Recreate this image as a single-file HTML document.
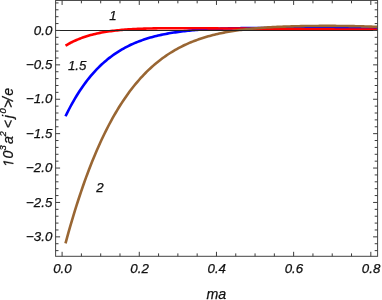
<!DOCTYPE html><html><head><meta charset="utf-8"><style>html,body{margin:0;padding:0;background:#fff;}body{width:382px;height:300px;overflow:hidden;position:relative}</style></head><body><svg width="382" height="300" viewBox="0 0 382 300" style="position:absolute;left:0;top:0;will-change:transform;transform:translateZ(0)">
<rect width="382" height="300" fill="#fff"/>
<path d="M65.50,116.28 L67.07,113.08 L68.64,109.98 L70.21,106.99 L71.77,104.10 L73.34,101.31 L74.91,98.61 L76.48,96.00 L78.05,93.48 L79.62,91.05 L81.18,88.70 L82.75,86.42 L84.32,84.23 L85.89,82.11 L87.46,80.06 L89.03,78.09 L90.59,76.18 L92.16,74.33 L93.73,72.56 L95.30,70.84 L96.87,69.18 L98.44,67.58 L100.00,66.04 L101.57,64.55 L103.14,63.12 L104.71,61.73 L106.28,60.40 L107.85,59.11 L109.41,57.87 L110.98,56.67 L112.55,55.51 L114.12,54.40 L115.69,53.33 L117.26,52.30 L118.82,51.30 L120.39,50.34 L121.96,49.42 L123.53,48.53 L125.10,47.67 L126.67,46.84 L128.23,46.05 L129.80,45.28 L131.37,44.55 L132.94,43.84 L134.51,43.15 L136.08,42.50 L137.64,41.87 L139.21,41.26 L140.78,40.68 L142.35,40.12 L143.92,39.58 L145.49,39.06 L147.05,38.56 L148.62,38.08 L150.19,37.62 L151.76,37.18 L153.33,36.75 L154.90,36.34 L156.46,35.95 L158.03,35.58 L159.60,35.22 L161.17,34.87 L162.74,34.54 L164.31,34.22 L165.87,33.92 L167.44,33.62 L169.01,33.34 L170.58,33.08 L172.15,32.82 L173.72,32.57 L175.28,32.34 L176.85,32.11 L178.42,31.90 L179.99,31.69 L181.56,31.49 L183.13,31.30 L184.69,31.12 L186.26,30.95 L187.83,30.78 L189.40,30.63 L190.97,30.48 L192.54,30.33 L194.10,30.20 L195.67,30.07 L197.24,29.94 L198.81,29.82 L200.38,29.71 L201.95,29.60 L203.51,29.50 L205.08,29.40 L206.65,29.31 L208.22,29.22 L209.79,29.14 L211.36,29.06 L212.92,28.98 L214.49,28.91 L216.06,28.85 L217.63,28.78 L219.20,28.72 L220.77,28.66 L222.33,28.61 L223.90,28.56 L225.47,28.51 L227.04,28.47 L228.61,28.42 L230.18,28.38 L231.74,28.35 L233.31,28.31 L234.88,28.28 L236.45,28.25 L238.02,28.22 L239.59,28.19 L241.15,28.17 L242.72,28.14 L244.29,28.12 L245.86,28.10 L247.43,28.08 L249.00,28.07 L250.56,28.05 L252.13,28.04 L253.70,28.03 L255.27,28.01 L256.84,28.00 L258.41,28.00 L259.97,27.99 L261.54,27.98 L263.11,27.97 L264.68,27.97 L266.25,27.97 L267.82,27.96 L269.38,27.96 L270.95,27.96 L272.52,27.96 L274.09,27.96 L275.66,27.96 L277.23,27.96 L278.79,27.96 L280.36,27.96 L281.93,27.96 L283.50,27.97 L285.07,27.97 L286.64,27.98 L288.20,27.98 L289.77,27.99 L291.34,27.99 L292.91,28.00 L294.48,28.00 L296.05,28.01 L297.61,28.02 L299.18,28.02 L300.75,28.03 L302.32,28.04 L303.89,28.05 L305.46,28.05 L307.02,28.06 L308.59,28.07 L310.16,28.08 L311.73,28.09 L313.30,28.10 L314.87,28.11 L316.43,28.12 L318.00,28.13 L319.57,28.14 L321.14,28.15 L322.71,28.16 L324.28,28.17 L325.84,28.18 L327.41,28.19 L328.98,28.20 L330.55,28.21 L332.12,28.22 L333.69,28.23 L335.25,28.24 L336.82,28.25 L338.39,28.26 L339.96,28.27 L341.53,28.28 L343.10,28.29 L344.66,28.30 L346.23,28.32 L347.80,28.33 L349.37,28.34 L350.94,28.35 L352.51,28.36 L354.07,28.37 L355.64,28.38 L357.21,28.39 L358.78,28.41 L360.35,28.42 L361.92,28.43 L363.48,28.44 L365.05,28.45 L366.62,28.46 L368.19,28.48 L369.76,28.49 L371.33,28.50 L372.89,28.51 L374.46,28.52 L376.03,28.53 L377.60,28.54" fill="none" stroke="#0000ff" stroke-width="2.6"/>
<path d="M65.50,45.72 L67.07,44.78 L68.64,43.88 L70.21,43.02 L71.77,42.21 L73.34,41.44 L74.91,40.70 L76.48,40.00 L78.05,39.34 L79.62,38.70 L81.18,38.10 L82.75,37.53 L84.32,36.99 L85.89,36.48 L87.46,35.99 L89.03,35.53 L90.59,35.09 L92.16,34.67 L93.73,34.27 L95.30,33.90 L96.87,33.55 L98.44,33.21 L100.00,32.89 L101.57,32.59 L103.14,32.31 L104.71,32.04 L106.28,31.78 L107.85,31.54 L109.41,31.31 L110.98,31.10 L112.55,30.90 L114.12,30.70 L115.69,30.52 L117.26,30.35 L118.82,30.19 L120.39,30.04 L121.96,29.90 L123.53,29.77 L125.10,29.65 L126.67,29.53 L128.23,29.42 L129.80,29.32 L131.37,29.22 L132.94,29.13 L134.51,29.05 L136.08,28.97 L137.64,28.89 L139.21,28.83 L140.78,28.76 L142.35,28.71 L143.92,28.65 L145.49,28.60 L147.05,28.55 L148.62,28.51 L150.19,28.47 L151.76,28.44 L153.33,28.40 L154.90,28.38 L156.46,28.35 L158.03,28.32 L159.60,28.30 L161.17,28.28 L162.74,28.27 L164.31,28.25 L165.87,28.24 L167.44,28.23 L169.01,28.22 L170.58,28.21 L172.15,28.20 L173.72,28.20 L175.28,28.20 L176.85,28.19 L178.42,28.19 L179.99,28.19 L181.56,28.19 L183.13,28.20 L184.69,28.20 L186.26,28.20 L187.83,28.21 L189.40,28.22 L190.97,28.22 L192.54,28.23 L194.10,28.24 L195.67,28.25 L197.24,28.26 L198.81,28.27 L200.38,28.28 L201.95,28.29 L203.51,28.30 L205.08,28.31 L206.65,28.32 L208.22,28.33 L209.79,28.35 L211.36,28.36 L212.92,28.37 L214.49,28.38 L216.06,28.40 L217.63,28.41 L219.20,28.43 L220.77,28.44 L222.33,28.45 L223.90,28.47 L225.47,28.48 L227.04,28.50 L228.61,28.51 L230.18,28.53 L231.74,28.54 L233.31,28.56 L234.88,28.57 L236.45,28.59 L238.02,28.60 L239.59,28.61 L241.15,28.63 L242.72,28.64 L244.29,28.66 L245.86,28.67 L247.43,28.69 L249.00,28.70 L250.56,28.72 L252.13,28.73 L253.70,28.75 L255.27,28.76 L256.84,28.78 L258.41,28.79 L259.97,28.81 L261.54,28.82 L263.11,28.84 L264.68,28.85 L266.25,28.87 L267.82,28.88 L269.38,28.89 L270.95,28.91 L272.52,28.92 L274.09,28.94 L275.66,28.95 L277.23,28.97 L278.79,28.98 L280.36,28.99 L281.93,29.01 L283.50,29.02 L285.07,29.03 L286.64,29.05 L288.20,29.06 L289.77,29.08 L291.34,29.09 L292.91,29.10 L294.48,29.11 L296.05,29.13 L297.61,29.14 L299.18,29.15 L300.75,29.17 L302.32,29.18 L303.89,29.19 L305.46,29.21 L307.02,29.22 L308.59,29.23 L310.16,29.24 L311.73,29.25 L313.30,29.27 L314.87,29.28 L316.43,29.29 L318.00,29.30 L319.57,29.32 L321.14,29.33 L322.71,29.34 L324.28,29.35 L325.84,29.36 L327.41,29.37 L328.98,29.39 L330.55,29.40 L332.12,29.41 L333.69,29.42 L335.25,29.43 L336.82,29.44 L338.39,29.45 L339.96,29.46 L341.53,29.47 L343.10,29.48 L344.66,29.49 L346.23,29.51 L347.80,29.52 L349.37,29.53 L350.94,29.54 L352.51,29.55 L354.07,29.56 L355.64,29.57 L357.21,29.58 L358.78,29.59 L360.35,29.60 L361.92,29.61 L363.48,29.62 L365.05,29.63 L366.62,29.64 L368.19,29.64 L369.76,29.65 L371.33,29.66 L372.89,29.67 L374.46,29.68 L376.03,29.69 L377.60,29.70" fill="none" stroke="#ff0000" stroke-width="2.6" stroke-linecap="butt"/>
<path d="M65.50,243.31 L67.07,237.55 L68.64,231.92 L70.21,226.42 L71.77,221.05 L73.34,215.79 L74.91,210.66 L76.48,205.65 L78.05,200.75 L79.62,195.97 L81.18,191.29 L82.75,186.73 L84.32,182.28 L85.89,177.93 L87.46,173.68 L89.03,169.53 L90.59,165.49 L92.16,161.54 L93.73,157.69 L95.30,153.93 L96.87,150.26 L98.44,146.68 L100.00,143.19 L101.57,139.78 L103.14,136.46 L104.71,133.23 L106.28,130.07 L107.85,126.99 L109.41,123.99 L110.98,121.07 L112.55,118.22 L114.12,115.44 L115.69,112.74 L117.26,110.10 L118.82,107.53 L120.39,105.03 L121.96,102.60 L123.53,100.23 L125.10,97.92 L126.67,95.67 L128.23,93.48 L129.80,91.35 L131.37,89.28 L132.94,87.27 L134.51,85.31 L136.08,83.40 L137.64,81.54 L139.21,79.74 L140.78,77.99 L142.35,76.28 L143.92,74.62 L145.49,73.01 L147.05,71.45 L148.62,69.93 L150.19,68.45 L151.76,67.01 L153.33,65.62 L154.90,64.27 L156.46,62.95 L158.03,61.68 L159.60,60.44 L161.17,59.24 L162.74,58.07 L164.31,56.94 L165.87,55.84 L167.44,54.78 L169.01,53.75 L170.58,52.75 L172.15,51.78 L173.72,50.84 L175.28,49.93 L176.85,49.05 L178.42,48.19 L179.99,47.37 L181.56,46.56 L183.13,45.79 L184.69,45.04 L186.26,44.31 L187.83,43.61 L189.40,42.93 L190.97,42.27 L192.54,41.63 L194.10,41.02 L195.67,40.42 L197.24,39.85 L198.81,39.29 L200.38,38.76 L201.95,38.24 L203.51,37.74 L205.08,37.25 L206.65,36.78 L208.22,36.33 L209.79,35.90 L211.36,35.48 L212.92,35.07 L214.49,34.68 L216.06,34.31 L217.63,33.94 L219.20,33.59 L220.77,33.26 L222.33,32.93 L223.90,32.62 L225.47,32.32 L227.04,32.03 L228.61,31.75 L230.18,31.48 L231.74,31.22 L233.31,30.97 L234.88,30.73 L236.45,30.50 L238.02,30.28 L239.59,30.07 L241.15,29.87 L242.72,29.67 L244.29,29.48 L245.86,29.30 L247.43,29.13 L249.00,28.96 L250.56,28.80 L252.13,28.65 L253.70,28.50 L255.27,28.36 L256.84,28.22 L258.41,28.09 L259.97,27.97 L261.54,27.85 L263.11,27.74 L264.68,27.63 L266.25,27.52 L267.82,27.42 L269.38,27.33 L270.95,27.24 L272.52,27.15 L274.09,27.07 L275.66,26.99 L277.23,26.91 L278.79,26.84 L280.36,26.77 L281.93,26.71 L283.50,26.65 L285.07,26.59 L286.64,26.53 L288.20,26.48 L289.77,26.43 L291.34,26.38 L292.91,26.34 L294.48,26.29 L296.05,26.25 L297.61,26.22 L299.18,26.18 L300.75,26.15 L302.32,26.12 L303.89,26.09 L305.46,26.06 L307.02,26.04 L308.59,26.02 L310.16,26.00 L311.73,25.98 L313.30,25.96 L314.87,25.95 L316.43,25.94 L318.00,25.93 L319.57,25.92 L321.14,25.91 L322.71,25.90 L324.28,25.90 L325.84,25.90 L327.41,25.90 L328.98,25.90 L330.55,25.90 L332.12,25.91 L333.69,25.91 L335.25,25.92 L336.82,25.93 L338.39,25.94 L339.96,25.96 L341.53,25.97 L343.10,25.99 L344.66,26.01 L346.23,26.03 L347.80,26.05 L349.37,26.08 L350.94,26.10 L352.51,26.13 L354.07,26.16 L355.64,26.20 L357.21,26.23 L358.78,26.27 L360.35,26.31 L361.92,26.35 L363.48,26.39 L365.05,26.44 L366.62,26.49 L368.19,26.54 L369.76,26.59 L371.33,26.64 L372.89,26.70 L374.46,26.76 L376.03,26.82 L377.60,26.89" fill="none" stroke="#996633" stroke-width="2.6"/>
<line x1="55.6" y1="30.5" x2="377.6" y2="30.5" stroke="#222" stroke-width="1"/>
<rect x="55.6" y="0.45" width="322.0" height="255.85000000000002" fill="none" stroke="#444" stroke-width="1"/>
<path d="M62.10,256.3v-4.5M62.10,0.45v4.5M81.40,256.3v-2.9M81.40,0.45v2.9M100.69,256.3v-2.9M100.69,0.45v2.9M119.99,256.3v-2.9M119.99,0.45v2.9M139.28,256.3v-4.5M139.28,0.45v4.5M158.57,256.3v-2.9M158.57,0.45v2.9M177.87,256.3v-2.9M177.87,0.45v2.9M197.16,256.3v-2.9M197.16,0.45v2.9M216.46,256.3v-4.5M216.46,0.45v4.5M235.75,256.3v-2.9M235.75,0.45v2.9M255.05,256.3v-2.9M255.05,0.45v2.9M274.35,256.3v-2.9M274.35,0.45v2.9M293.64,256.3v-4.5M293.64,0.45v4.5M312.94,256.3v-2.9M312.94,0.45v2.9M332.23,256.3v-2.9M332.23,0.45v2.9M351.52,256.3v-2.9M351.52,0.45v2.9M370.82,256.3v-4.5M370.82,0.45v4.5M55.6,250.61h2.9M377.6,250.61h-2.9M55.6,243.73h2.9M377.6,243.73h-2.9M55.6,236.85h4.5M377.6,236.85h-4.5M55.6,229.97h2.9M377.6,229.97h-2.9M55.6,223.09h2.9M377.6,223.09h-2.9M55.6,216.21h2.9M377.6,216.21h-2.9M55.6,209.33h2.9M377.6,209.33h-2.9M55.6,202.45h4.5M377.6,202.45h-4.5M55.6,195.57h2.9M377.6,195.57h-2.9M55.6,188.69h2.9M377.6,188.69h-2.9M55.6,181.81h2.9M377.6,181.81h-2.9M55.6,174.93h2.9M377.6,174.93h-2.9M55.6,168.05h4.5M377.6,168.05h-4.5M55.6,161.17h2.9M377.6,161.17h-2.9M55.6,154.29h2.9M377.6,154.29h-2.9M55.6,147.41h2.9M377.6,147.41h-2.9M55.6,140.53h2.9M377.6,140.53h-2.9M55.6,133.65h4.5M377.6,133.65h-4.5M55.6,126.77h2.9M377.6,126.77h-2.9M55.6,119.89h2.9M377.6,119.89h-2.9M55.6,113.01h2.9M377.6,113.01h-2.9M55.6,106.13h2.9M377.6,106.13h-2.9M55.6,99.25h4.5M377.6,99.25h-4.5M55.6,92.37h2.9M377.6,92.37h-2.9M55.6,85.49h2.9M377.6,85.49h-2.9M55.6,78.61h2.9M377.6,78.61h-2.9M55.6,71.73h2.9M377.6,71.73h-2.9M55.6,64.85h4.5M377.6,64.85h-4.5M55.6,57.97h2.9M377.6,57.97h-2.9M55.6,51.09h2.9M377.6,51.09h-2.9M55.6,44.21h2.9M377.6,44.21h-2.9M55.6,37.33h2.9M377.6,37.33h-2.9M55.6,30.45h4.5M377.6,30.45h-4.5M55.6,23.57h2.9M377.6,23.57h-2.9M55.6,16.69h2.9M377.6,16.69h-2.9M55.6,9.81h2.9M377.6,9.81h-2.9M55.6,2.93h2.9M377.6,2.93h-2.9" stroke="#3c3c3c" stroke-width="1" fill="none"/>
<g style="font-family:'Liberation Sans',sans-serif;font-style:italic;fill:#111;stroke:#111;stroke-width:2.5px">
<text transform="translate(62.40,273.30) scale(0.1)" text-anchor="middle" font-size="133">0.0</text>
<text transform="translate(139.58,273.30) scale(0.1)" text-anchor="middle" font-size="133">0.2</text>
<text transform="translate(216.76,273.30) scale(0.1)" text-anchor="middle" font-size="133">0.4</text>
<text transform="translate(293.94,273.30) scale(0.1)" text-anchor="middle" font-size="133">0.6</text>
<text transform="translate(371.12,273.30) scale(0.1)" text-anchor="middle" font-size="133">0.8</text>
<text transform="translate(52.30,241.05) scale(0.1)" text-anchor="end" font-size="133">−3.0</text>
<text transform="translate(52.30,206.65) scale(0.1)" text-anchor="end" font-size="133">−2.5</text>
<text transform="translate(52.30,172.25) scale(0.1)" text-anchor="end" font-size="133">−2.0</text>
<text transform="translate(52.30,137.85) scale(0.1)" text-anchor="end" font-size="133">−1.5</text>
<text transform="translate(52.30,103.45) scale(0.1)" text-anchor="end" font-size="133">−1.0</text>
<text transform="translate(52.30,69.05) scale(0.1)" text-anchor="end" font-size="133">−0.5</text>
<text transform="translate(52.30,34.65) scale(0.1)" text-anchor="end" font-size="133">0.0</text>
<text transform="translate(113.00,19.60) scale(0.1)" text-anchor="middle" font-size="133">1</text>
<text transform="translate(77.20,70.00) scale(0.1)" text-anchor="middle" font-size="133">1.5</text>
<text transform="translate(100.00,192.20) scale(0.1)" text-anchor="middle" font-size="133">2</text>
<text transform="translate(216.40,298.80) scale(0.1)" text-anchor="middle" font-size="142">ma</text>
<g transform="translate(13.3,165.7) rotate(-90)"><path stroke-width="36" transform="translate(-1.3,0) scale(0.006934,-0.006934)" d="M442,0L650,1223L289,1000L324,1180L701,1409L867,1409L593,0Z"/><text transform="translate(7.10,0.00) scale(0.1)" text-anchor="start" font-size="142">0</text><text transform="translate(15.20,-7.20) scale(0.1)" text-anchor="start" font-size="94">3</text><text transform="translate(21.60,0.00) scale(0.1)" text-anchor="start" font-size="142">a</text><text transform="translate(29.10,-7.20) scale(0.1)" text-anchor="start" font-size="94">2</text><text transform="translate(37.50,0.00) scale(0.1)" text-anchor="start" font-size="142">&lt;</text><text transform="translate(47.40,0.00) scale(0.1)" text-anchor="start" font-size="142">j</text><text transform="translate(52.20,-7.20) scale(0.1)" text-anchor="start" font-size="94">0</text><text transform="translate(57.60,0.00) scale(0.1)" text-anchor="start" font-size="142">&gt;</text><text transform="translate(64.60,0.00) scale(0.1)" text-anchor="start" font-size="142">/</text><text transform="translate(70.00,0.00) scale(0.1)" text-anchor="start" font-size="142">e</text></g>
</g>
</svg></body></html>
